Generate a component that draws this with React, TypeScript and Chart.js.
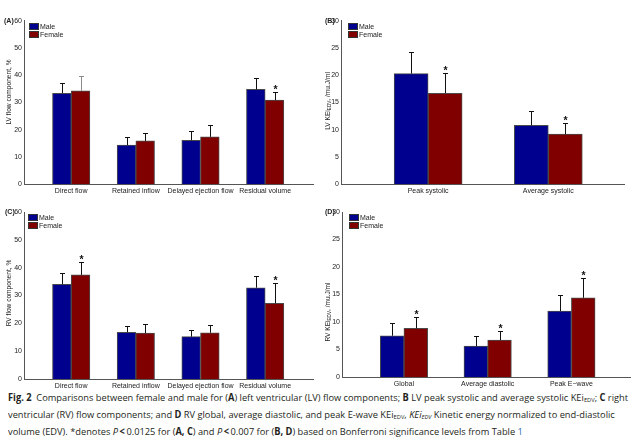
import React, { useEffect, useLayoutEffect, useRef } from "react";
import { Chart, registerables } from "chart.js";

Chart.register(...registerables);

// ---------------- data ----------------
const legendLabels = ["Male", "Female"];

const flowCategories = ["Direct flow", "Retained inflow", "Delayed ejection flow", "Residual volume"];
const lvKeCategories = ["Peak systolic", "Average systolic"];
const rvKeCategories = ["Global", "Average diastolic", "Peak E\u2212wave"];

const flowTicks = [0, 10, 20, 30, 40, 50, 60];
const keTicks = [0, 5, 10, 15, 20, 25, 30];

// (A) LV flow components, %
const aMale = [33.4, 14.4, 16.1, 34.8];
const aMaleErr = [3.6, 3.1, 3.3, 4.3];
const aFemale = [34.3, 15.9, 17.4, 30.9];
const aFemaleErr = [5.6, 2.8, 4.2, 2.9];
const aSig = [false, false, false, true];

// (B) LV KEi_EDV
const bMale = [20.3, 10.8];
const bMaleErr = [4.0, 2.6];
const bFemale = [16.7, 9.2];
const bFemaleErr = [3.8, 2.1];
const bSig = [true, true];

// (C) RV flow components, %
const cMale = [34.0, 16.8, 15.2, 32.8];
const cMaleErr = [4.0, 2.4, 2.5, 4.3];
const cFemale = [37.4, 16.5, 16.6, 27.2];
const cFemaleErr = [4.5, 3.4, 2.9, 7.2];
const cSig = [true, false, false, true];

// (D) RV KEi_EDV
const dMale = [7.5, 5.6, 12.0];
const dMaleErr = [2.3, 1.8, 2.85];
const dFemale = [8.85, 6.7, 14.4];
const dFemaleErr = [2.0, 1.7, 3.6];
const dSig = [true, true, true];

// ---------------- styles ----------------
const FONT = "'Liberation Sans', Arial, sans-serif";
const MALE_COLOR = "#00008f";
const FEMALE_COLOR = "#800000";
const BAR_BORDER = "#4a4a4a";
const AXIS_COLOR = "#555555";
const TEXT_COLOR = "#222222";

type TitlePart = { t: string; sub?: boolean };
type Series = {
  label: string;
  values: number[];
  errs: number[];
  color: string;
  errColors?: string[];
  sig?: boolean[];
};
type PanelSpec = {
  key: string;
  categories: string[];
  ticks: number[];
  series: Series[];
  letter: string;
  title: TitlePart[];
  canvas: { left: number; top: number; w: number; h: number };
  area: { left: number; top: number; right: number; bottom: number };
  xMin: number;
  xMax: number;
  barW: number;
  titleX: number;
  titleY: number;
  letterX: number;
  legendDx: number;
};

const lvFlowTitle: TitlePart[] = [{ t: "LV flow component, %" }];
const rvFlowTitle: TitlePart[] = [{ t: "RV flow component, %" }];
const lvKeTitle: TitlePart[] = [{ t: "LV KEi" }, { t: "EDV", sub: true }, { t: ", /mu.J/ml" }];
const rvKeTitle: TitlePart[] = [{ t: "RV KEi" }, { t: "EDV", sub: true }, { t: ", /mu.J/ml" }];

const panels: PanelSpec[] = [
  {
    key: "A",
    categories: flowCategories,
    ticks: flowTicks,
    series: [
      { label: legendLabels[0], values: aMale, errs: aMaleErr, color: MALE_COLOR },
      {
        label: legendLabels[1],
        values: aFemale,
        errs: aFemaleErr,
        color: FEMALE_COLOR,
        errColors: ["#8c8c8c", "#111", "#111", "#111"],
        sig: aSig,
      },
    ],
    letter: "(A)",
    title: lvFlowTitle,
    canvas: { left: 0, top: 0, w: 317, h: 198 },
    area: { left: 24, top: 20.7, right: 313, bottom: 184.3 },
    xMin: -0.73,
    xMax: 3.74,
    barW: 18.7,
    titleX: 9,
    titleY: 92,
    letterX: 4,
    legendDx: 5,
  },
  {
    key: "B",
    categories: lvKeCategories,
    ticks: keTicks,
    series: [
      { label: legendLabels[0], values: bMale, errs: bMaleErr, color: MALE_COLOR },
      { label: legendLabels[1], values: bFemale, errs: bFemaleErr, color: FEMALE_COLOR, sig: bSig },
    ],
    letter: "(B)",
    title: lvKeTitle,
    canvas: { left: 317, top: 0, w: 317, h: 198 },
    area: { left: 341, top: 20.7, right: 624, bottom: 184.3 },
    xMin: -0.725,
    xMax: 1.63,
    barW: 34,
    titleX: 328,
    titleY: 101,
    letterX: 325,
    legendDx: 7,
  },
  {
    key: "C",
    categories: flowCategories,
    ticks: flowTicks,
    series: [
      { label: legendLabels[0], values: cMale, errs: cMaleErr, color: MALE_COLOR },
      { label: legendLabels[1], values: cFemale, errs: cFemaleErr, color: FEMALE_COLOR, sig: cSig },
    ],
    letter: "(C)",
    title: rvFlowTitle,
    canvas: { left: 0, top: 198, w: 317, h: 192 },
    area: { left: 24, top: 212, right: 313, bottom: 379 },
    xMin: -0.73,
    xMax: 3.74,
    barW: 18.7,
    titleX: 9,
    titleY: 293,
    letterX: 5,
    legendDx: 4,
  },
  {
    key: "D",
    categories: rvKeCategories,
    ticks: keTicks,
    series: [
      { label: legendLabels[0], values: dMale, errs: dMaleErr, color: MALE_COLOR },
      { label: legendLabels[1], values: dFemale, errs: dFemaleErr, color: FEMALE_COLOR, sig: dSig },
    ],
    letter: "(D)",
    title: rvKeTitle,
    canvas: { left: 317, top: 198, w: 317, h: 192 },
    area: { left: 342, top: 212, right: 630, bottom: 377 },
    xMin: -0.74,
    xMax: 2.7,
    barW: 23.7,
    titleX: 328,
    titleY: 312,
    letterX: 325,
    legendDx: 7,
  },
];

function makeOverlay(p: PanelSpec) {
  return {
    id: "overlay" + p.key,
    afterDatasetsDraw(chart: any) {
      const ctx = chart.ctx as CanvasRenderingContext2D;
      const y = chart.scales.y;
      ctx.save();
      p.series.forEach((s, di) => {
        const meta = chart.getDatasetMeta(di);
        meta.data.forEach((el: any, i: number) => {
          const top = y.getPixelForValue(s.values[i] + s.errs[i]);
          const x = Math.round(el.x) + 0.5;
          const tp = Math.round(top) + 0.5;
          ctx.strokeStyle = (s.errColors && s.errColors[i]) || "#111";
          ctx.lineWidth = 1;
          ctx.beginPath();
          ctx.moveTo(x, el.y);
          ctx.lineTo(x, tp);
          ctx.moveTo(x - 2.5, tp);
          ctx.lineTo(x + 2.5, tp);
          ctx.stroke();
          if (s.sig && s.sig[i]) {
            ctx.fillStyle = "#111";
            ctx.font = `bold 10.5px ${FONT}`;
            ctx.textAlign = "center";
            ctx.textBaseline = "alphabetic";
            ctx.fillText("*", x, tp + 0.5);
          }
        });
      });
      ctx.restore();
    },
    afterDraw(chart: any) {
      const ctx = chart.ctx as CanvasRenderingContext2D;
      const a = chart.chartArea;
      ctx.save();
      // legend
      ctx.font = `7px ${FONT}`;
      ctx.textAlign = "left";
      ctx.textBaseline = "middle";
      p.series.forEach((s, i) => {
        const bx = Math.round(a.left + p.legendDx);
        const by = Math.round(a.top + 2 + i * 8);
        const bw = 10;
        const bh = 7;
        ctx.fillStyle = s.color;
        ctx.fillRect(bx, by, bw, bh);
        ctx.strokeStyle = "#333";
        ctx.lineWidth = 1;
        ctx.strokeRect(bx + 0.5, by + 0.5, bw - 1, bh - 1);
        ctx.fillStyle = TEXT_COLOR;
        ctx.fillText(s.label, bx + bw + 1, by + bh / 2 + 0.5);
      });
      // panel letter
      ctx.font = `bold 7px ${FONT}`;
      ctx.fillStyle = TEXT_COLOR;
      ctx.textBaseline = "middle";
      ctx.fillText(p.letter, p.letterX - p.canvas.left, a.top);
      // y-axis title with subscript
      const size = 6.6;
      const subSize = 4.6;
      let total = 0;
      const widths = p.title.map((part) => {
        ctx.font = `${part.sub ? subSize : size}px ${FONT}`;
        const w = ctx.measureText(part.t).width;
        total += w;
        return w;
      });
      ctx.translate(p.titleX - p.canvas.left, p.titleY - p.canvas.top);
      ctx.rotate(-Math.PI / 2);
      ctx.textAlign = "left";
      ctx.textBaseline = "middle";
      let cx = -total / 2;
      p.title.forEach((part, i) => {
        ctx.font = `${part.sub ? subSize : size}px ${FONT}`;
        ctx.fillText(part.t, cx, part.sub ? 2 : 0);
        cx += widths[i];
      });
      ctx.restore();
    },
  };
}

function makeConfig(p: PanelSpec): any {
  const c = p.canvas;
  const a = p.area;
  const tickFont = { family: FONT, size: 7 };
  return {
    type: "bar",
    data: {
      datasets: p.series.map((s) => ({
        label: s.label,
        data: s.values.map((v, i) => ({ x: i, y: v })),
        backgroundColor: s.color,
        borderColor: BAR_BORDER,
        borderWidth: 1,
        barThickness: p.barW,
      })),
    },
    options: {
      animation: false,
      responsive: false,
      devicePixelRatio: 1,
      layout: {
        padding: { left: 0, top: a.top - c.top, right: c.left + c.w - a.right, bottom: 0 },
      },
      plugins: {
        legend: { display: false },
        tooltip: { enabled: false },
        title: { display: false },
      },
      scales: {
        x: {
          type: "linear",
          offset: false,
          min: p.xMin,
          max: p.xMax,
          grid: { display: false, drawTicks: false },
          border: { color: AXIS_COLOR, width: 1 },
          ticks: {
            autoSkip: false,
            maxRotation: 0,
            minRotation: 0,
            padding: 3,
            color: TEXT_COLOR,
            font: tickFont,
            callback: (_v: any, i: number) => p.categories[i] ?? "",
          },
          afterBuildTicks: (scale: any) => {
            scale.ticks = p.categories.map((_, i) => ({ value: i }));
          },
          afterFit: (scale: any) => {
            scale.height = c.top + c.h - a.bottom;
          },
        },
        y: {
          min: p.ticks[0],
          max: p.ticks[p.ticks.length - 1],
          grid: { display: false, drawTicks: false },
          border: { color: AXIS_COLOR, width: 1 },
          ticks: {
            stepSize: p.ticks[1] - p.ticks[0],
            padding: 2,
            color: TEXT_COLOR,
            font: tickFont,
          },
          afterBuildTicks: (scale: any) => {
            scale.ticks = p.ticks.map((v) => ({ value: v }));
          },
          afterFit: (scale: any) => {
            scale.width = a.left - c.left;
          },
        },
      },
    },
    plugins: [makeOverlay(p)],
  };
}

function PanelChart({ p }: { p: PanelSpec }) {
  const ref = useRef<HTMLCanvasElement>(null);
  useEffect(() => {
    const chart = new Chart(ref.current as HTMLCanvasElement, makeConfig(p));
    return () => chart.destroy();
  }, [p]);
  return (
    <canvas
      ref={ref}
      width={p.canvas.w}
      height={p.canvas.h}
      style={{
        position: "absolute",
        left: p.canvas.left,
        top: p.canvas.top,
        width: p.canvas.w,
        height: p.canvas.h,
      }}
    />
  );
}

const subStyle: React.CSSProperties = {
  fontSize: "0.62em",
  verticalAlign: "baseline",
  position: "relative",
  top: "0.3em",
};

function Caption() {
  const boxRef = useRef<HTMLDivElement>(null);
  const firstRef = useRef<HTMLSpanElement>(null);
  useLayoutEffect(() => {
    const w = firstRef.current ? firstRef.current.getBoundingClientRect().width : 0;
    if (w > 0 && boxRef.current) {
      boxRef.current.style.transform = `scaleX(${620 / w})`;
    }
  }, []);
  const bold: React.CSSProperties = { fontWeight: 700 };
  return (
    <div
      ref={boxRef}
      style={{
        position: "absolute",
        left: 8,
        top: 389.5,
        width: 800,
        transformOrigin: "left top",
        fontFamily: "'Open Sans', 'Noto Sans', sans-serif",
        fontSize: 9.8,
        lineHeight: "15px",
        color: "#231f20",
        whiteSpace: "nowrap",
      }}
    >
      <div>
        <span ref={firstRef}>
          <span style={bold}>Fig. 2</span>&nbsp; Comparisons between female and male for (<span style={bold}>A</span>) left
          ventricular (LV) flow components; <span style={bold}>B</span> LV peak systolic and average systolic KEi
          <span style={subStyle}>EDV</span>; <span style={bold}>C</span> right
        </span>
      </div>
      <div>
        ventricular (RV) flow components; and <span style={bold}>D</span> RV global, average diastolic, and peak E-wave
        KEi<span style={subStyle}>EDV</span>, <i>KEi<span style={subStyle}>EDV</span></i> Kinetic energy normalized to
        end-diastolic
      </div>
      <div>
        volume (EDV). *denotes <i>P</i>{"\u2009"}
        <span style={bold}>&lt;</span>
        {"\u2009"}0.0125 for (<span style={bold}>A, C</span>) and <i>P</i>{"\u2009"}
        <span style={bold}>&lt;</span>
        {"\u2009"}0.007 for (<span style={bold}>B, D</span>) based on Bonferroni significance levels from Table{" "}
        <span style={{ color: "#2b6cb5" }}>1</span>
      </div>
    </div>
  );
}

export default function App() {
  return (
    <div
      style={{
        position: "absolute",
        left: 0,
        top: 0,
        width: 634,
        height: 440,
        background: "#ffffff",
        overflow: "hidden",
      }}
    >
      {panels.map((p) => (
        <PanelChart key={p.key} p={p} />
      ))}
      <Caption />
    </div>
  );
}
